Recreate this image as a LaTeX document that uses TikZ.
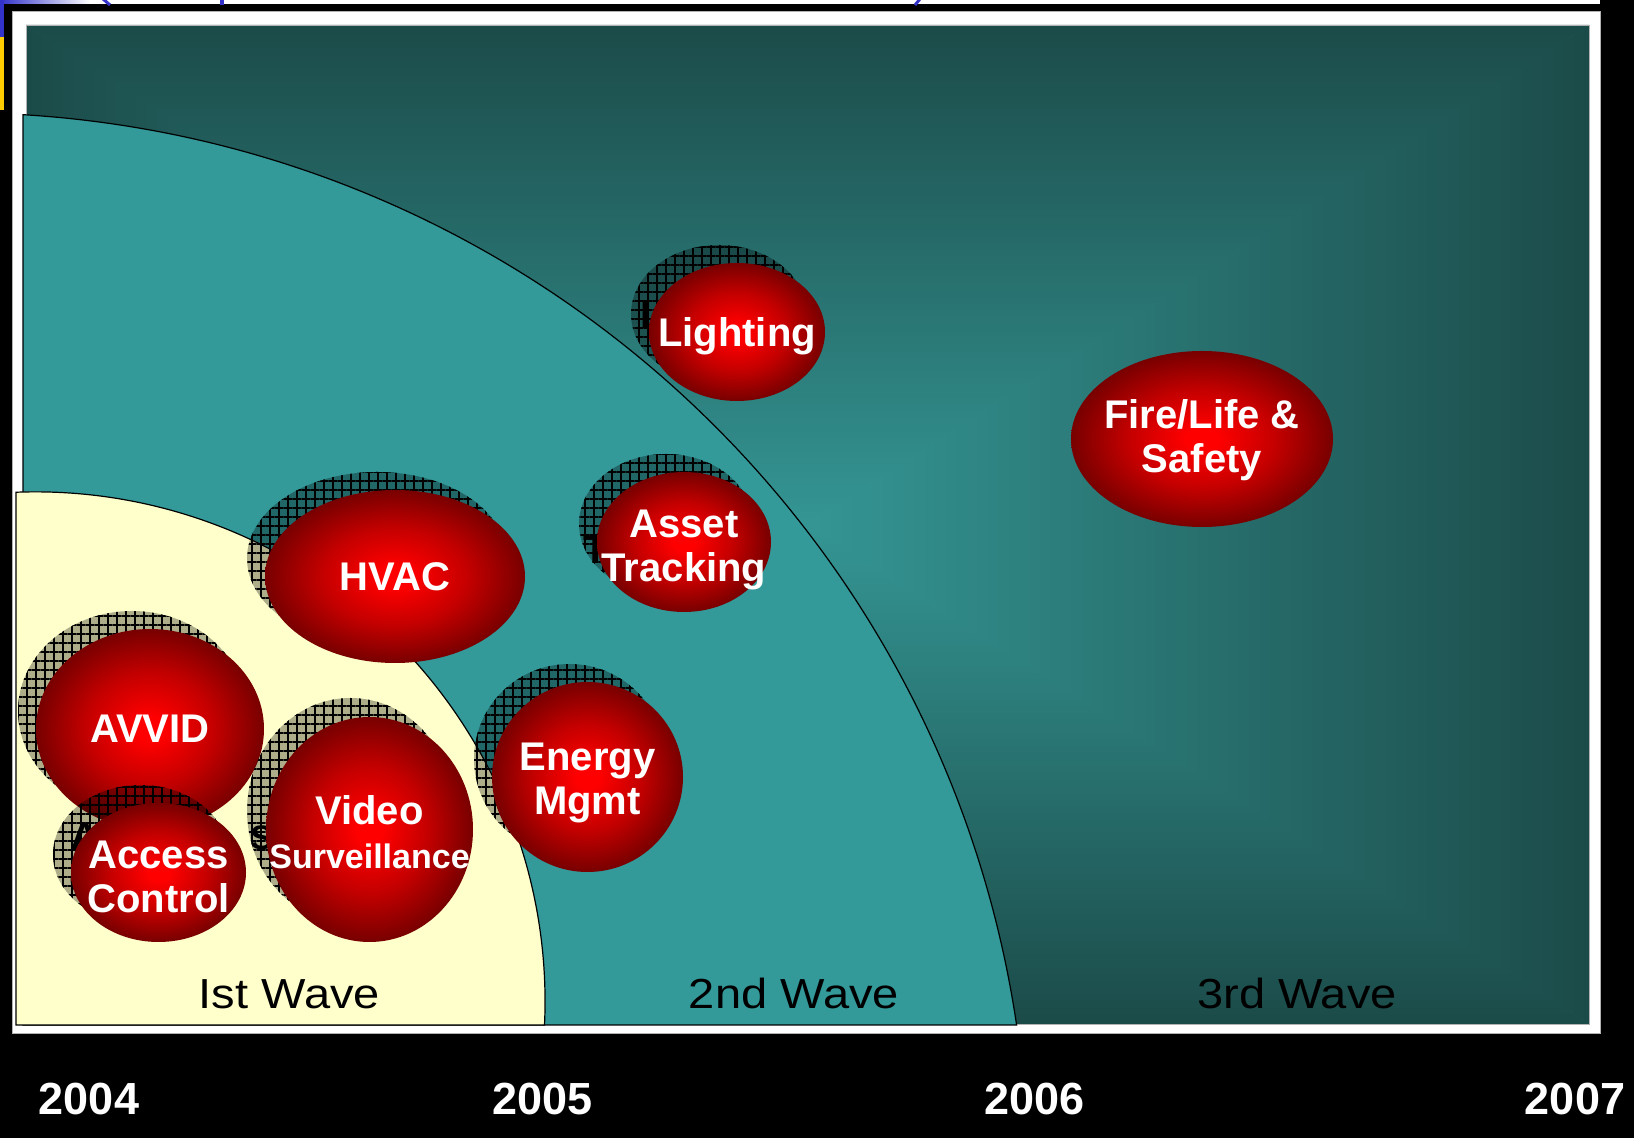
\documentclass[tikz,border=0pt]{standalone}
\usepackage{fontspec}
\setmainfont{Liberation Sans}
\newfontfamily\wavefont[FakeStretch=1.12]{Liberation Sans}
\usetikzlibrary{shapes.geometric,patterns.meta}
\definecolor{edgeteal}{RGB}{27,75,73}
\definecolor{midteal}{RGB}{52,150,148}
\definecolor{waveteal}{RGB}{51,153,153}
\definecolor{waveyellow}{RGB}{255,255,204}
\definecolor{bubc}{RGB}{255,0,0}
\definecolor{bubm}{RGB}{196,0,0}
\definecolor{bube}{RGB}{120,0,0}
\definecolor{slideblue}{RGB}{51,51,204}
\definecolor{slidegold}{RGB}{255,204,0}
\pgfdeclareradialshading{bubshade}{\pgfpoint{0bp}{0bp}}{color(0bp)=(bubc); color(3bp)=(bubc); color(14bp)=(bubm); color(25bp)=(bube); color(50bp)=(bube)}
\begin{document}
\begin{tikzpicture}[x=1pt,y=1pt,
  bubble/.style={ellipse, inner sep=0pt, outer sep=0pt, draw=none, shade, shading=bubshade},
  bubshadow/.style={ellipse, inner sep=0pt, outer sep=0pt, draw=none,
    preaction={fill=black, fill opacity=0.32},
    pattern={Lines[angle=0,distance=9pt,line width=1.1pt]}, pattern color=black,
    postaction={pattern={Lines[angle=90,distance=9pt,line width=1.1pt]}, pattern color=black}},
  bubtext/.style={text=white, font=\bfseries\fontsize{40}{44}\selectfont, align=center, inner sep=0pt},
  shadowtext/.style={text=black, font=\bfseries\fontsize{40}{44}\selectfont, align=center, inner sep=0pt},
  wavelabel/.style={font=\wavefont\fontsize{42}{46}\selectfont, text=black, anchor=base, inner sep=0pt},
  yearlabel/.style={font=\bfseries\fontsize{45}{50}\selectfont, text=white, anchor=base, inner sep=0pt},
  waveline/.style={draw=black, line width=1.2pt}
]
\useasboundingbox (0,0) rectangle (1634,1138);
\fill[black] (0,0) rectangle (1634,1138);
% remnants of the slide above
\fill[white] (0,1134) rectangle (1600,1138);
\shade[left color=slideblue, right color=white] (0,1134) rectangle (90,1138);
\fill[slideblue] (0,1101) rectangle (4,1138);
\fill[slidegold] (0,1028) rectangle (4,1101);
\draw[slideblue, line width=3pt] (103,1139) .. controls (106,1136) .. (110,1133);
\draw[slideblue, line width=3.5pt] (222,1139) -- (222,1133);
\draw[slideblue, line width=3pt] (920,1139) -- (915,1133);
% white frame
\filldraw[fill=white, draw=gray!60, line width=1pt] (12,104) rectangle (1600,1126);
% panel with box gradient
\fill[edgeteal!50!midteal] (26,114) rectangle (1589,1113);
\shade[top color=edgeteal, bottom color=midteal] (26,1113) -- (1589,1113) -- (807.5,610) -- cycle;
\shade[top color=midteal, bottom color=edgeteal] (26,114) -- (1589,114) -- (807.5,617) -- cycle;
\shade[left color=edgeteal, right color=midteal] (26,114) -- (26,1113) -- (811,613.5) -- cycle;
\shade[left color=midteal, right color=edgeteal] (1589,114) -- (1589,1113) -- (804,613.5) -- cycle;
\draw[gray!60, line width=0.8pt] (26,114) rectangle (1589,1113);
% waves
\filldraw[fill=waveteal, waveline] (23,113) -- (1016.6,113) arc[start angle=8.475, end angle=86.53, radius=1070] -- cycle;
\filldraw[fill=waveyellow, waveline] (16,113) -- (544.5,113) arc[start angle=-2.65, end angle=92.18, radius=509.6] -- cycle;
% wave labels
\node[wavelabel] (w1) at (289.5,129) {Ist Wave};
\node[wavelabel] (w2) at (794,129) {2nd Wave};
\node[wavelabel] (w3) at (1297,129) {3rd Wave};
% years
\node[yearlabel] (y4) at (89,23) {2004};
\node[yearlabel] (y5) at (542.5,23) {2005};
\node[yearlabel] (y6) at (1034.5,23) {2006};
\node[yearlabel] (y7) at (1575,23) {2007};
% Fire/Life & Safety
\node[bubble, minimum width=262pt, minimum height=176pt] (fire) at (1202,699) {};
\node[bubtext, yshift=-1pt] (firet) at (fire.center) {Fire/Life \&\\Safety};
% Lighting
\node[bubshadow, minimum width=176pt, minimum height=138pt] (lightS) at (719,824) {};
\node[shadowtext, text depth=0pt] (lightSt) at (lightS.center) {Lighting};
\node[bubble, minimum width=176pt, minimum height=138pt] (light) at (737,806) {};
\node[bubtext, text depth=0pt] (lightt) at (light.center) {Lighting};
% Asset Tracking
\node[bubshadow, minimum width=174pt, minimum height=140pt] (assetS) at (666,614) {};
\node[shadowtext, yshift=-8pt] (assetSt) at (assetS.center) {Asset\\Tracking};
\node[bubble, minimum width=174pt, minimum height=140pt] (asset) at (684,596) {};
\node[bubtext, yshift=-8pt] (assett) at (asset.center) {Asset\\Tracking};
% HVAC
\node[bubshadow, minimum width=260pt, minimum height=173pt] (hvacS) at (377,579.5) {};
\node[bubble, minimum width=260pt, minimum height=173pt] (hvac) at (395,561.5) {};
\node[bubtext] (hvact) at (hvac.center) {HVAC};
% Energy Mgmt
\node[bubshadow, minimum width=191pt, minimum height=190pt] (energyS) at (569.5,379) {};
\node[bubble, minimum width=191pt, minimum height=190pt] (energy) at (587.5,361) {};
\node[bubtext, yshift=-6pt] (energyt) at (energy.center) {Energy\\Mgmt};
% AVVID
\node[bubshadow, minimum width=228pt, minimum height=200pt] (avvidS) at (132,427) {};
\node[bubble, minimum width=228pt, minimum height=200pt] (avvid) at (150,409) {};
\node[bubtext] (avvidt) at (avvid.center) {AVVID};
% Access Control
\node[bubshadow, minimum width=175pt, minimum height=139pt] (accessS) at (140.5,283.5) {};
\node[shadowtext, yshift=-4pt] (accessSt) at (accessS.center) {Access\\Control};
\node[bubble, minimum width=175pt, minimum height=139pt] (access) at (158.5,265.5) {};
\node[bubtext, yshift=-4pt] (accesst) at (access.center) {Access\\Control};
% Video Surveillance
\node[bubshadow, minimum width=207pt, minimum height=225pt] (videoS) at (350.5,327.5) {};
\node[shadowtext, yshift=-3pt] (videoSt) at (videoS.center) {Video\\\fontsize{34}{40}\selectfont Surveillance};
\node[bubble, minimum width=207pt, minimum height=225pt] (video) at (369.5,308.5) {};
\node[bubtext, yshift=-3pt] (videot) at (video.center) {Video\\\fontsize{34}{40}\selectfont Surveillance};
\end{tikzpicture}
\end{document}
